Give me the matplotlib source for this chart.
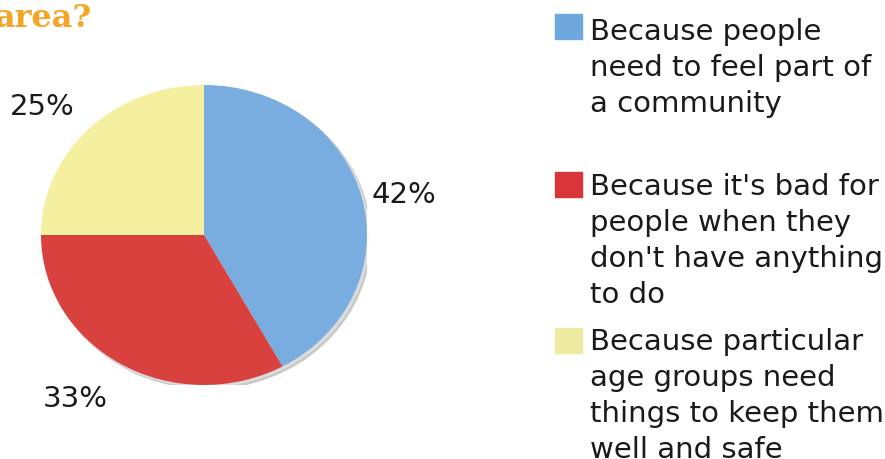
import matplotlib.pyplot as plt
from matplotlib.patches import Ellipse

plt.rcParams['font.family'] = ['DejaVu Sans']

# survey answers (percent)
reasons = [
    "Because people\nneed to feel part of\na community",
    "Because it's bad for\npeople when they\ndon't have anything\nto do",
    "Because particular\nage groups need\nthings to keep them\nwell and safe",
]
shares = [42, 33, 25]
colors = ['#79ADDF', '#D9413F', '#F5EFA0']
key_colors = ['#6FA8DC', '#D9363A', '#EEEAA2']

W, H = 885, 459
fig = plt.figure(figsize=(W / 100, H / 100), dpi=100)

def fx(px):
    return px / W

def fy(py):
    return 1 - py / H

# pie box in pixels: left, top, right, bottom
pl, pt, pr, pb = 41, 85, 367, 385
ax = fig.add_axes([fx(pl), fy(pb), fx(pr - pl), (pb - pt) / H])

# soft grey rim behind the pie
dx, dy = 3.5 / ((pr - pl) / 2), 3.5 / ((pb - pt) / 2)
ax.add_patch(Ellipse((dx, -dy), 2.0, 2.0, color='#c8c8c8', zorder=0))
ax.add_patch(Ellipse((dx * 0.5, -dy * 0.5), 2.0, 2.0, color='#dcdcdc', zorder=0))

wedges, _ = ax.pie(shares, colors=colors, startangle=90, counterclock=False,
                   wedgeprops=dict(linewidth=0))
for w in wedges:
    w.set_zorder(2)
ax.set_aspect('auto')
ax.set_xlim(-1, 1)
ax.set_ylim(-1, 1)
ax.axis('off')

# percentage labels around the pie (pixel baselines)
label_pos = [(372, 203), (43, 407), (10, 115)]
for v, (x, y) in zip(shares, label_pos):
    fig.text(fx(x), fy(y), f"{v}%", fontsize=21, color='#1a1a1a',
             ha='left', va='baseline')

# key on the right
key_tops = [14, 172, 328]
text_base = [40, 195, 350]
line_gap = 36
for txt, c, top, base in zip(reasons, key_colors, key_tops, text_base):
    fig.patches.append(plt.Rectangle((fx(555), fy(top + 25)), fx(27), 25 / H,
                                     transform=fig.transFigure, color=c))
    for i, line in enumerate(txt.split('\n')):
        fig.text(fx(590), fy(base + i * line_gap), line, fontsize=21,
                 color='#1a1a1a', ha='left', va='baseline')

# heading fragment
fig.text(fx(-5), fy(27), "area?", fontsize=23, fontweight='bold',
         family='DejaVu Serif', color='#F5A425', ha='left', va='baseline')

fig.savefig('out.png', dpi=100)
